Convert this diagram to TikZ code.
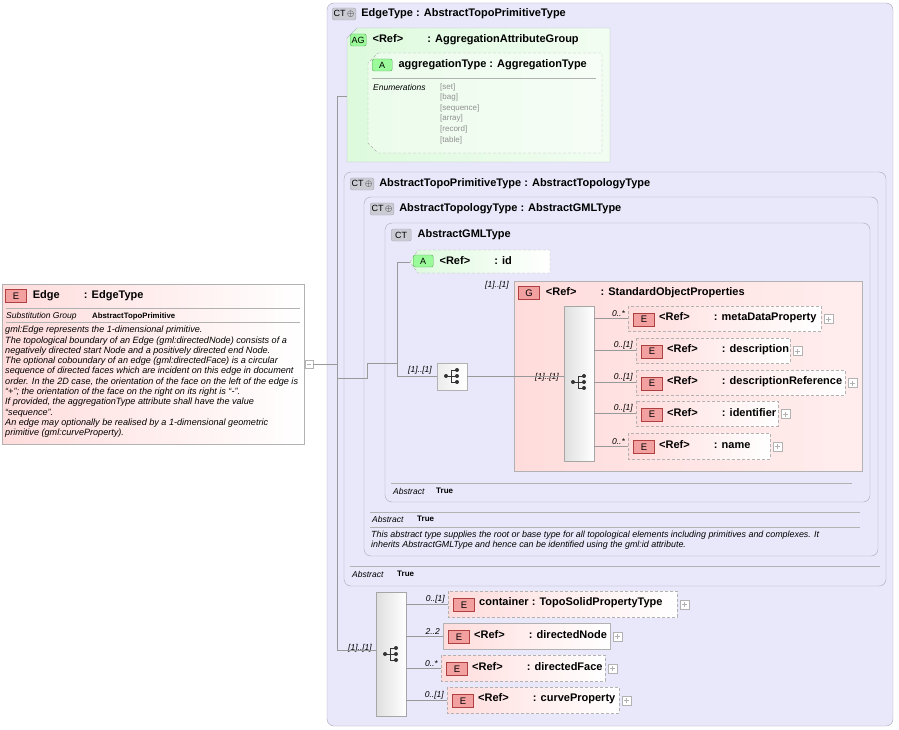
\documentclass[tikz,border=0pt]{standalone}
\usepackage{fontspec}
\setmainfont{Liberation Sans}
\usepackage{tikz}
\usetikzlibrary{positioning,calc}
\definecolor{ctfill}{HTML}{E8E8FA}
\definecolor{ctline}{HTML}{A8A8B8}
\definecolor{agfill}{HTML}{DDFADD}
\definecolor{efill}{HTML}{FFDCDC}
\definecolor{eicon}{HTML}{F2A0A0}
\definecolor{eline}{HTML}{B04040}
\definecolor{enumcol}{HTML}{909090}
\tikzset{
  ctbox/.style={draw=ctline, rounded corners=7pt, fill=ctfill},
  agbox/.style={draw=ctline!80, left color=agfill, right color=agfill!40},
  ebox/.style={draw=gray!60, left color=efill, right color=white},
  dbox/.style={dashed, dash pattern=on 3pt off 2pt},
  icon/.style={draw=#1, rounded corners=2pt, inner sep=1.5pt, minimum height=12pt, font=\fontsize{9}{9}\selectfont},
  eic/.style={draw=eline, fill=eicon, minimum width=21pt, minimum height=13pt, inner sep=0pt, font=\fontsize{9.5}{9.5}\selectfont},
  ttl/.style={anchor=west, font=\bfseries\fontsize{11}{12}\selectfont, inner sep=0pt},
  card/.style={font=\itshape\fontsize{8.5}{9}\selectfont, inner sep=0pt},
  small/.style={anchor=west, inner sep=0pt, font=\fontsize{8.5}{9}\selectfont},
  seqbar/.style={draw=gray!70, left color=gray!25, right color=white, shading angle=90},
  conn/.style={draw=gray!80, line width=0.5pt}
}
% element box with E icon, title and plus box
\newcommand\elem[6][]{%
  \draw[ebox,dbox,#1] (#2,#3) rectangle (#4,#5);
  \node[eic] at ({#2+16},{(#3+#5)/2+1}) {E};
  \node[ttl] at ({#2+31},{(#3+#5)/2-1}) {#6};
  \draw[gray!60,fill=white] ({#4+3},{(#3+#5)/2+5}) rectangle ++(9,-9);
  \draw[gray!60] ({#4+5},{(#3+#5)/2+0.5}) -- ++(5,0) ({#4+7.5},{(#3+#5)/2+3}) -- ++(0,-5);
}
\newcommand\seqicon[2]{%
  \fill[gray!40!black] ({#1-6},#2) circle (2pt);
  \draw[gray!40!black,line width=0.8pt] ({#1-6},#2) -- ({#1-1},#2) ({#1-1},{#2-6}) -- ({#1-1},{#2+6})
     ({#1-1},{#2-6}) -- ({#1+5},{#2-6}) ({#1-1},#2) -- ({#1+5},#2) ({#1-1},{#2+6}) -- ({#1+5},{#2+6});
  \foreach \d in {-6,0,6} \fill[gray!40!black] ({#1+5},{#2+\d}) circle (2pt);
}
\newcommand\reftxt[1]{\textless Ref\textgreater\hspace{2.2em}: #1}
\begin{document}
\begin{tikzpicture}[x=1pt, y=-1pt]
\useasboundingbox (0,0) rectangle (899,730);
% Edge element
\draw[draw=gray!60, left color=efill, right color=white] (2,284) rectangle (304,444);
\node[eic] (eE) at (16,296) {E};
\node[ttl, right=6pt of eE] (eTitle) {Edge\hspace{2.2em}: EdgeType};
\draw[gray!60] (6,308) -- (300,308) (6,322) -- (300,322);
\node[small, font=\itshape\fontsize{8.5}{9}\selectfont] at (6,316) {Substitution Group};
\node[small, font=\bfseries\fontsize{7.8}{9}\selectfont] at (92,316) {AbstractTopoPrimitive};
\node[anchor=north west, inner sep=0pt, align=left, font=\itshape\fontsize{9.1}{10.3}\selectfont] at (5,326) {gml:Edge represents the 1-dimensional primitive.\\
The topological boundary of an Edge (gml:directedNode) consists of a\\
negatively directed start Node and a positively directed end Node.\\
The optional coboundary of an edge (gml:directedFace) is a circular\\
sequence of directed faces which are incident on this edge in document\\
order. In the 2D case, the orientation of the face on the left of the edge is\\
``+''; the orientation of the face on the right on its right is ``-''.\\
If provided, the aggregationType attribute shall have the value\\
``sequence''.\\
An edge may optionally be realised by a 1-dimensional geometric\\
primitive (gml:curveProperty).};
\draw[gray!60,fill=white] (305,360) rectangle (313,368);
\draw[gray!60] (307,364) -- (311,364);
% EdgeType
\draw[ctbox] (327,3) rectangle (893,726);
\node[icon=ctline, fill=ctline!60, anchor=west] (ctEdge) at (332,14) {CT\,$\oplus$};
\node[ttl, right=5pt of ctEdge] {EdgeType : AbstractTopoPrimitiveType};
% aggregation attribute group
\draw[agbox] (357,28) -- (610,28) -- (610,162) -- (347,162) -- (347,38) -- cycle;
\node[icon=gray!70!green, fill=agfill!70!green, anchor=west] (agIc) at (350,40) {AG};
\node[ttl, right=6pt of agIc] {\reftxt{AggregationAttributeGroup}};
\draw[dbox, draw=gray!60, fill=white, fill opacity=0.4] (378,53) -- (602,53) -- (602,153) -- (378,153) -- (368,143) -- (368,63) -- cycle;
\node[icon=gray!70!green, fill=agfill!70!green, anchor=west, minimum width=20pt] (aIc) at (372,65) {A};
\node[ttl, right=6pt of aIc] {aggregationType : AggregationType};
\draw[gray!60] (372,78) -- (596,78);
\node[small, font=\itshape\fontsize{8.5}{9}\selectfont] at (373,87) {Enumerations};
\foreach \v [count=\i from 0] in {set,bag,sequence,array,record,table}
  \node[small, text=enumcol, font=\fontsize{8}{9}\selectfont] at (440,{87+\i*10.6}) {[\v]};
% AbstractTopoPrimitiveType
\draw[ctbox] (344,172) rectangle (886,586);
\node[icon=ctline, fill=ctline!60, anchor=west] (ctPrim) at (350,184) {CT\,$\oplus$};
\node[ttl, right=5pt of ctPrim] {AbstractTopoPrimitiveType : AbstractTopologyType};
\draw[gray!60] (350,566) -- (880,566);
\node[small, font=\itshape\fontsize{8.5}{9}\selectfont] at (352,574) {Abstract};
\node[small, font=\bfseries\fontsize{8}{9}\selectfont] at (397,574) {True};
% AbstractTopologyType
\draw[ctbox] (364,197) rectangle (878,556);
\node[icon=ctline, fill=ctline!60, anchor=west] (ctTopo) at (370,209) {CT\,$\oplus$};
\node[ttl, right=5pt of ctTopo] {AbstractTopologyType : AbstractGMLType};
\draw[gray!60] (370,512) -- (860,512) (370,527) -- (860,527);
\node[small, font=\itshape\fontsize{8.5}{9}\selectfont] at (372,519) {Abstract};
\node[small, font=\bfseries\fontsize{8}{9}\selectfont] at (417,519) {True};
\node[anchor=north west, inner sep=0pt, align=left, font=\itshape\fontsize{8.9}{10}\selectfont] at (371,531) {This abstract type supplies the root or base type for all topological elements including primitives and complexes. It\\
inherits AbstractGMLType and hence can be identified using the gml:id attribute.};
% AbstractGMLType
\draw[ctbox] (385,223) rectangle (870,502);
\node[icon=ctline, fill=ctline!60, anchor=west, minimum width=20pt] (ctGml) at (391,235) {CT};
\node[ttl, right=6pt of ctGml] {AbstractGMLType};
\draw[gray!60] (391,483) -- (852,483);
\node[small, font=\itshape\fontsize{8.5}{9}\selectfont] at (393,491) {Abstract};
\node[small, font=\bfseries\fontsize{8}{9}\selectfont] at (436,491) {True};
% gml:id
\draw[dbox, draw=gray!60, left color=agfill, right color=white] (418,250) -- (550,250) -- (550,273) -- (418,273) -- (410,262) -- cycle;
\node[icon=gray!70!green, fill=agfill!70!green, anchor=west, minimum width=20pt] (idIc) at (413,261) {A};
\node[ttl, right=6pt of idIc] {\reftxt{id}};
% sequence of AbstractGMLType
\draw[draw=gray!60, left color=gray!15, right color=white] (437,363) rectangle (467,390);
\seqicon{452}{376}
\node[card] at (420,370) {[1]..[1]};
% StandardObjectProperties
\draw[draw=gray!60, left color=efill, right color=efill!50] (514,281) rectangle (862,471);
\node[eic] (gIc) at (529,293) {G};
\node[ttl, right=6pt of gIc] {\reftxt{StandardObjectProperties}};
\node[card] at (497,285) {[1]..[1]};
\draw[seqbar] (564,306) rectangle (594,461);
\seqicon{579}{382}
\node[card] at (547,377) {[1]..[1]};
\elem{628}{306}{821}{331}{\reftxt{metaDataProperty}}
\elem{636}{338}{790}{363}{\reftxt{description}}
\elem{636}{370}{845}{395}{\reftxt{descriptionReference}}
\elem{636}{401}{778}{426}{\reftxt{identifier}}
\elem{628}{433}{770}{459}{\reftxt{name}}
\foreach \yy/\xe/\cc in {318/628/{0..*}, 350/636/{0..[1]}, 382/636/{0..[1]}, 413/636/{0..[1]}, 446/628/{0..*}} {
  \draw[conn] (594,\yy) -- (\xe,\yy);
  \node[card, anchor=south east] at ({\xe-3},{\yy-1}) {\cc};
}
% EdgeType sequence
\draw[seqbar] (376,592) rectangle (406,716);
\seqicon{391}{654}
\node[card] at (360,648) {[1]..[1]};
\elem{448}{591}{677}{617}{container : TopoSolidPropertyType}
\elem[solid]{443}{623}{610}{649}{\reftxt{directedNode}}
\elem{441}{655}{605}{681}{\reftxt{directedFace}}
\elem{447}{687}{619}{713}{\reftxt{curveProperty}}
\foreach \yy/\xe/\cc in {604/448/{0..[1]}, 636/443/{2..2}, 668/441/{0..*}, 700/447/{0..[1]}} {
  \draw[conn] (406,\yy) -- (\xe,\yy);
  \node[card, anchor=south east] at ({\xe-3},{\yy-1}) {\cc};
}
% connectors
\coordinate (trT) at (337,96);
\coordinate (trB) at (337,650);
\draw[conn] (313,364) -- (337,364);
\draw[conn] (trT) -- (trB) -- (376,650);
\draw[conn] (trT) -- (347,96);
\draw[conn] (337,378) -- (367,378) -- (367,363) -- (397,363);
\draw[conn] (410,262) -- (397,262) -- (397,376) -- (437,376);
\draw[conn] (467,376) -- (564,376);
\end{tikzpicture}
\end{document}
